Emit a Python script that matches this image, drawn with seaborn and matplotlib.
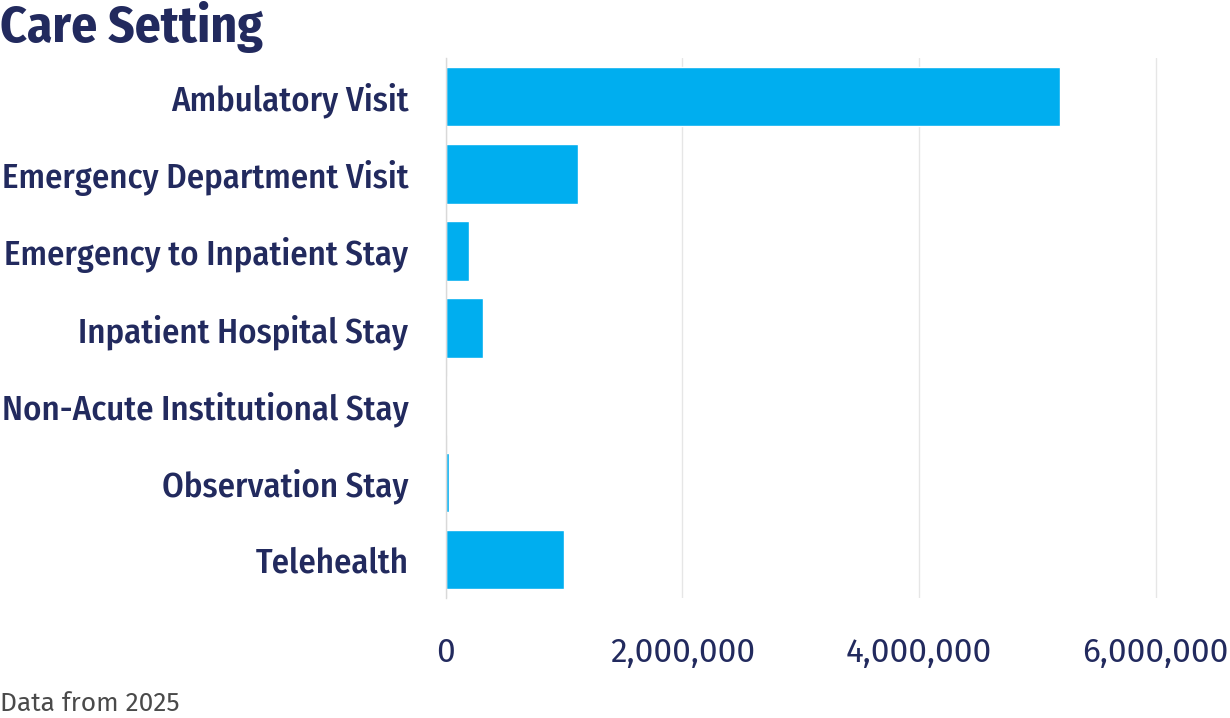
import seaborn as sns
import matplotlib.pyplot as plt
import matplotlib.ticker as mticker
import pandas as pd

# values
settings = ["Ambulatory Visit", "Emergency Department Visit", "Emergency to Inpatient Stay",
            "Inpatient Hospital Stay", "Non-Acute Institutional Stay", "Observation Stay", "Telehealth"]
counts = [5190000, 1116000, 196000, 310000, 5000, 28000, 995000]

df = pd.DataFrame({"setting": settings, "count": counts})

navy = "#222a5e"
blue = "#00aeef"

sns.set_style("white")
plt.rcParams['font.family'] = ['Fira Sans Condensed', 'DejaVu Sans']

fig = plt.figure(figsize=(12.3, 7.18), dpi=100)
ax = fig.add_axes([0.3626, 0.167, 0.6374, 0.752])

sns.barplot(data=df, x="count", y="setting", orient="h", color=blue,
            saturation=1, width=0.77, ax=ax)

ax.set_xlim(0, 6.63e6)
ax.set_ylim(6.5, -0.5)
ax.set_xticks([0, 2e6, 4e6, 6e6])
ax.xaxis.set_major_formatter(mticker.FuncFormatter(lambda v, p: f"{int(v):,}"))
ax.grid(axis="x", color="#e6e6e6", linewidth=1)
ax.set_axisbelow(True)
for s in ["top", "right", "bottom"]:
    ax.spines[s].set_visible(False)
ax.spines["left"].set_color("#d9d9d9")
ax.spines["left"].set_linewidth(1)
ax.set_xlabel("")
ax.set_ylabel("")
ax.tick_params(axis="x", length=0, pad=28, labelsize=24, labelcolor=navy)
ax.tick_params(axis="y", length=0, pad=27, labelsize=25, labelcolor=navy)
for t in ax.get_xticklabels():
    t.set_family(['Fira Sans', 'DejaVu Sans'])
for t in ax.get_yticklabels():
    t.set_fontweight("medium")

fig.text(0.0, 0.998, "Care Setting", ha="left", va="top", fontsize=37,
         fontweight="bold", color=navy)
fig.text(0.0, 0.003, "Data from 2025", ha="left", va="bottom", fontsize=19,
         color="#4a4a4a", family=['Fira Sans', 'DejaVu Sans'])

fig.savefig("out.png", dpi=100)
